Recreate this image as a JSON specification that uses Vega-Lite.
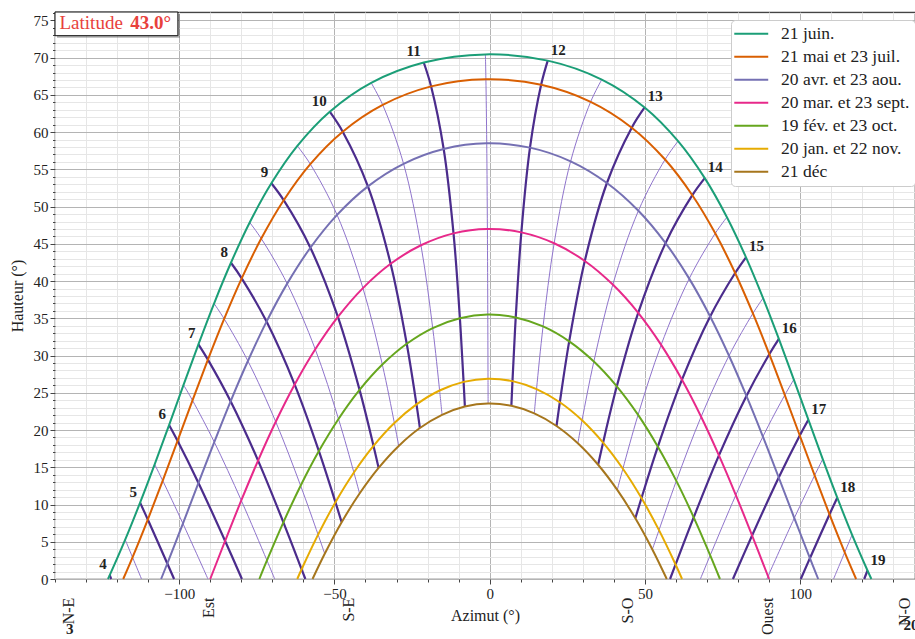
{
"$schema":"https://vega.github.io/schema/vega-lite/v6.json",
"width":860,"height":567,
"autosize":{"type":"none"},
"padding":{"left":55,"top":12,"right":0,"bottom":60},
"background":"white",
"config":{"font":"Liberation Serif","view":{"stroke":"#444444","strokeWidth":1.2},
"axis":{"domain":false,"labelFont":"Liberation Serif","titleFont":"Liberation Serif","labelColor":"#222222","titleColor":"#222222","titleFontWeight":"normal","tickColor":"#444444","labelFontSize":15,"titleFontSize":16},
"text":{"font":"Liberation Serif"}},
"resolve":{"axis":{"x":"independent","y":"independent"}},
"datasets":{
"pts":[
{"c":"21 juin.","az":-122.95,"alt":0},
{"c":"21 juin.","t":4,"az":-122.37,"alt":0.52},
{"c":"21 juin.","t":4.5,"az":-117.39,"alt":5.28},
{"c":"21 juin.","t":5,"az":-112.59,"alt":10.25},
{"c":"21 juin.","t":5.5,"az":-107.9,"alt":15.39},
{"c":"21 juin.","t":6,"az":-103.26,"alt":20.67},
{"c":"21 juin.","t":6.5,"az":-98.6,"alt":26.06},
{"c":"21 juin.","t":7,"az":-93.8,"alt":31.51},
{"c":"21 juin.","t":7.5,"az":-88.77,"alt":36.99},
{"c":"21 juin.","t":8,"az":-83.33,"alt":42.46},
{"c":"21 juin.","t":8.5,"az":-77.29,"alt":47.87},
{"c":"21 juin.","t":9,"az":-70.31,"alt":53.13},
{"c":"21 juin.","t":9.5,"az":-61.94,"alt":58.15},
{"c":"21 juin.","t":10,"az":-51.51,"alt":62.74},
{"c":"21 juin.","t":10.5,"az":-38.16,"alt":66.62},
{"c":"21 juin.","t":11,"az":-21.23,"alt":69.35},
{"c":"21 juin.","t":11.5,"az":-1.37,"alt":70.44},
{"c":"21 juin.","t":12,"az":18.71,"alt":69.6},
{"c":"21 juin.","t":12.5,"az":36.11,"alt":67.06},
{"c":"21 juin.","t":13,"az":49.92,"alt":63.31},
{"c":"21 juin.","t":13.5,"az":60.69,"alt":58.79},
{"c":"21 juin.","t":14,"az":69.29,"alt":53.82},
{"c":"21 juin.","t":14.5,"az":76.42,"alt":48.58},
{"c":"21 juin.","t":15,"az":82.57,"alt":43.19},
{"c":"21 juin.","t":15.5,"az":88.07,"alt":37.72},
{"c":"21 juin.","t":16,"az":93.15,"alt":32.24},
{"c":"21 juin.","t":16.5,"az":97.97,"alt":26.78},
{"c":"21 juin.","t":17,"az":102.65,"alt":21.39},
{"c":"21 juin.","t":17.5,"az":107.28,"alt":16.09},
{"c":"21 juin.","t":18,"az":111.96,"alt":10.92},
{"c":"21 juin.","t":18.5,"az":116.74,"alt":5.93},
{"c":"21 juin.","t":19,"az":121.7,"alt":1.14},
{"c":"21 juin.","az":122.95,"alt":0},
{"c":"21 mai et 23 juil.","az":-118.03,"alt":0},
{"c":"21 mai et 23 juil.","t":4.5,"az":-115.03,"alt":2.91},
{"c":"21 mai et 23 juil.","t":5,"az":-110.11,"alt":7.98},
{"c":"21 mai et 23 juil.","t":5.5,"az":-105.3,"alt":13.2},
{"c":"21 mai et 23 juil.","t":6,"az":-100.53,"alt":18.55},
{"c":"21 mai et 23 juil.","t":6.5,"az":-95.71,"alt":23.98},
{"c":"21 mai et 23 juil.","t":7,"az":-90.75,"alt":29.45},
{"c":"21 mai et 23 juil.","t":7.5,"az":-85.52,"alt":34.93},
{"c":"21 mai et 23 juil.","t":8,"az":-79.86,"alt":40.37},
{"c":"21 mai et 23 juil.","t":8.5,"az":-73.57,"alt":45.71},
{"c":"21 mai et 23 juil.","t":9,"az":-66.34,"alt":50.86},
{"c":"21 mai et 23 juil.","t":9.5,"az":-57.77,"alt":55.71},
{"c":"21 mai et 23 juil.","t":10,"az":-47.33,"alt":60.06},
{"c":"21 mai et 23 juil.","t":10.5,"az":-34.45,"alt":63.66},
{"c":"21 mai et 23 juil.","t":11,"az":-18.85,"alt":66.14},
{"c":"21 mai et 23 juil.","t":11.5,"az":-1.21,"alt":67.1},
{"c":"21 mai et 23 juil.","t":12,"az":16.58,"alt":66.36},
{"c":"21 mai et 23 juil.","t":12.5,"az":32.53,"alt":64.07},
{"c":"21 mai et 23 juil.","t":13,"az":45.77,"alt":60.6},
{"c":"21 mai et 23 juil.","t":13.5,"az":56.5,"alt":56.32},
{"c":"21 mai et 23 juil.","t":14,"az":65.28,"alt":51.53},
{"c":"21 mai et 23 juil.","t":14.5,"az":72.66,"alt":46.41},
{"c":"21 mai et 23 juil.","t":15,"az":79.07,"alt":41.09},
{"c":"21 mai et 23 juil.","t":15.5,"az":84.79,"alt":35.66},
{"c":"21 mai et 23 juil.","t":16,"az":90.07,"alt":30.18},
{"c":"21 mai et 23 juil.","t":16.5,"az":95.06,"alt":24.7},
{"c":"21 mai et 23 juil.","t":17,"az":99.89,"alt":19.27},
{"c":"21 mai et 23 juil.","t":17.5,"az":104.67,"alt":13.91},
{"c":"21 mai et 23 juil.","t":18,"az":109.46,"alt":8.67},
{"c":"21 mai et 23 juil.","t":18.5,"az":114.36,"alt":3.58},
{"c":"21 mai et 23 juil.","az":118.03,"alt":0},
{"c":"20 avr. et 23 aou.","az":-105.82,"alt":0},
{"c":"20 avr. et 23 aou.","t":5,"az":-103.83,"alt":2.08},
{"c":"20 avr. et 23 aou.","t":5.5,"az":-98.8,"alt":7.45},
{"c":"20 avr. et 23 aou.","t":6,"az":-93.79,"alt":12.9},
{"c":"20 avr. et 23 aou.","t":6.5,"az":-88.7,"alt":18.39},
{"c":"20 avr. et 23 aou.","t":7,"az":-83.44,"alt":23.86},
{"c":"20 avr. et 23 aou.","t":7.5,"az":-77.87,"alt":29.27},
{"c":"20 avr. et 23 aou.","t":8,"az":-71.86,"alt":34.56},
{"c":"20 avr. et 23 aou.","t":8.5,"az":-65.22,"alt":39.66},
{"c":"20 avr. et 23 aou.","t":9,"az":-57.74,"alt":44.48},
{"c":"20 avr. et 23 aou.","t":9.5,"az":-49.15,"alt":48.89},
{"c":"20 avr. et 23 aou.","t":10,"az":-39.21,"alt":52.72},
{"c":"20 avr. et 23 aou.","t":10.5,"az":-27.73,"alt":55.75},
{"c":"20 avr. et 23 aou.","t":11,"az":-14.81,"alt":57.74},
{"c":"20 avr. et 23 aou.","t":11.5,"az":-0.94,"alt":58.5},
{"c":"20 avr. et 23 aou.","t":12,"az":12.99,"alt":57.92},
{"c":"20 avr. et 23 aou.","t":12.5,"az":26.08,"alt":56.08},
{"c":"20 avr. et 23 aou.","t":13,"az":37.77,"alt":53.17},
{"c":"20 avr. et 23 aou.","t":13.5,"az":47.91,"alt":49.44},
{"c":"20 avr. et 23 aou.","t":14,"az":56.66,"alt":45.1},
{"c":"20 avr. et 23 aou.","t":14.5,"az":64.28,"alt":40.33},
{"c":"20 avr. et 23 aou.","t":15,"az":71.02,"alt":35.25},
{"c":"20 avr. et 23 aou.","t":15.5,"az":77.1,"alt":29.98},
{"c":"20 avr. et 23 aou.","t":16,"az":82.71,"alt":24.58},
{"c":"20 avr. et 23 aou.","t":16.5,"az":88.01,"alt":19.12},
{"c":"20 avr. et 23 aou.","t":17,"az":93.11,"alt":13.63},
{"c":"20 avr. et 23 aou.","t":17.5,"az":98.13,"alt":8.18},
{"c":"20 avr. et 23 aou.","t":18,"az":103.15,"alt":2.79},
{"c":"20 avr. et 23 aou.","az":105.82,"alt":0},
{"c":"20 mar. et 23 sept.","az":-90,"alt":0},
{"c":"20 mar. et 23 sept.","t":6,"az":-85.21,"alt":5.11},
{"c":"20 mar. et 23 sept.","t":6.5,"az":-80,"alt":10.55},
{"c":"20 mar. et 23 sept.","t":7,"az":-74.59,"alt":15.9},
{"c":"20 mar. et 23 sept.","t":7.5,"az":-68.9,"alt":21.11},
{"c":"20 mar. et 23 sept.","t":8,"az":-62.8,"alt":26.11},
{"c":"20 mar. et 23 sept.","t":8.5,"az":-56.17,"alt":30.84},
{"c":"20 mar. et 23 sept.","t":9,"az":-48.88,"alt":35.19},
{"c":"20 mar. et 23 sept.","t":9.5,"az":-40.82,"alt":39.06},
{"c":"20 mar. et 23 sept.","t":10,"az":-31.9,"alt":42.32},
{"c":"20 mar. et 23 sept.","t":10.5,"az":-22.13,"alt":44.81},
{"c":"20 mar. et 23 sept.","t":11,"az":-11.64,"alt":46.41},
{"c":"20 mar. et 23 sept.","t":11.5,"az":-0.73,"alt":47},
{"c":"20 mar. et 23 sept.","t":12,"az":10.21,"alt":46.54},
{"c":"20 mar. et 23 sept.","t":12.5,"az":20.77,"alt":45.08},
{"c":"20 mar. et 23 sept.","t":13,"az":30.64,"alt":42.7},
{"c":"20 mar. et 23 sept.","t":13.5,"az":39.66,"alt":39.53},
{"c":"20 mar. et 23 sept.","t":14,"az":47.85,"alt":35.74},
{"c":"20 mar. et 23 sept.","t":14.5,"az":55.24,"alt":31.44},
{"c":"20 mar. et 23 sept.","t":15,"az":61.95,"alt":26.76},
{"c":"20 mar. et 23 sept.","t":15.5,"az":68.11,"alt":21.79},
{"c":"20 mar. et 23 sept.","t":16,"az":73.85,"alt":16.6},
{"c":"20 mar. et 23 sept.","t":16.5,"az":79.29,"alt":11.27},
{"c":"20 mar. et 23 sept.","t":17,"az":84.53,"alt":5.84},
{"c":"20 mar. et 23 sept.","t":17.5,"az":89.66,"alt":0.37},
{"c":"20 mar. et 23 sept.","az":90,"alt":0},
{"c":"19 fév. et 23 oct.","az":-74.18,"alt":0},
{"c":"19 fév. et 23 oct.","t":6.5,"az":-71.73,"alt":2.49},
{"c":"19 fév. et 23 oct.","t":7,"az":-66.44,"alt":7.61},
{"c":"19 fév. et 23 oct.","t":7.5,"az":-60.89,"alt":12.53},
{"c":"19 fév. et 23 oct.","t":8,"az":-55,"alt":17.18},
{"c":"19 fév. et 23 oct.","t":8.5,"az":-48.69,"alt":21.49},
{"c":"19 fév. et 23 oct.","t":9,"az":-41.9,"alt":25.39},
{"c":"19 fév. et 23 oct.","t":9.5,"az":-34.57,"alt":28.79},
{"c":"19 fév. et 23 oct.","t":10,"az":-26.71,"alt":31.58},
{"c":"19 fév. et 23 oct.","t":10.5,"az":-18.34,"alt":33.69},
{"c":"19 fév. et 23 oct.","t":11,"az":-9.59,"alt":35.01},
{"c":"19 fév. et 23 oct.","t":11.5,"az":-0.6,"alt":35.5},
{"c":"19 fév. et 23 oct.","t":12,"az":8.4,"alt":35.12},
{"c":"19 fév. et 23 oct.","t":12.5,"az":17.2,"alt":33.91},
{"c":"19 fév. et 23 oct.","t":13,"az":25.62,"alt":31.91},
{"c":"19 fév. et 23 oct.","t":13.5,"az":33.56,"alt":29.2},
{"c":"19 fév. et 23 oct.","t":14,"az":40.95,"alt":25.87},
{"c":"19 fév. et 23 oct.","t":14.5,"az":47.81,"alt":22.04},
{"c":"19 fév. et 23 oct.","t":15,"az":54.18,"alt":17.77},
{"c":"19 fév. et 23 oct.","t":15.5,"az":60.13,"alt":13.17},
{"c":"19 fév. et 23 oct.","t":16,"az":65.72,"alt":8.28},
{"c":"19 fév. et 23 oct.","t":16.5,"az":71.04,"alt":3.18},
{"c":"19 fév. et 23 oct.","az":74.18,"alt":0},
{"c":"20 jan. et 22 nov.","az":-61.97,"alt":0},
{"c":"20 jan. et 22 nov.","t":7,"az":-60.57,"alt":1.31},
{"c":"20 jan. et 22 nov.","t":7.5,"az":-55.26,"alt":5.96},
{"c":"20 jan. et 22 nov.","t":8,"az":-49.67,"alt":10.31},
{"c":"20 jan. et 22 nov.","t":8.5,"az":-43.73,"alt":14.3},
{"c":"20 jan. et 22 nov.","t":9,"az":-37.41,"alt":17.87},
{"c":"20 jan. et 22 nov.","t":9.5,"az":-30.69,"alt":20.94},
{"c":"20 jan. et 22 nov.","t":10,"az":-23.57,"alt":23.44},
{"c":"20 jan. et 22 nov.","t":10.5,"az":-16.12,"alt":25.31},
{"c":"20 jan. et 22 nov.","t":11,"az":-8.4,"alt":26.47},
{"c":"20 jan. et 22 nov.","t":11.5,"az":-0.53,"alt":26.9},
{"c":"20 jan. et 22 nov.","t":12,"az":7.35,"alt":26.57},
{"c":"20 jan. et 22 nov.","t":12.5,"az":15.1,"alt":25.5},
{"c":"20 jan. et 22 nov.","t":13,"az":22.6,"alt":23.73},
{"c":"20 jan. et 22 nov.","t":13.5,"az":29.76,"alt":21.31},
{"c":"20 jan. et 22 nov.","t":14,"az":36.53,"alt":18.31},
{"c":"20 jan. et 22 nov.","t":14.5,"az":42.91,"alt":14.8},
{"c":"20 jan. et 22 nov.","t":15,"az":48.9,"alt":10.86},
{"c":"20 jan. et 22 nov.","t":15.5,"az":54.54,"alt":6.56},
{"c":"20 jan. et 22 nov.","t":16,"az":59.88,"alt":1.95},
{"c":"20 jan. et 22 nov.","az":61.97,"alt":0},
{"c":"21 déc","az":-57.05,"alt":0},
{"c":"21 déc","t":7.5,"az":-53.12,"alt":3.39},
{"c":"21 déc","t":8,"az":-47.67,"alt":7.62},
{"c":"21 déc","t":8.5,"az":-41.9,"alt":11.48},
{"c":"21 déc","t":9,"az":-35.77,"alt":14.92},
{"c":"21 déc","t":9.5,"az":-29.29,"alt":17.87},
{"c":"21 déc","t":10,"az":-22.47,"alt":20.27},
{"c":"21 déc","t":10.5,"az":-15.34,"alt":22.04},
{"c":"21 déc","t":11,"az":-7.98,"alt":23.15},
{"c":"21 déc","t":11.5,"az":-0.5,"alt":23.56},
{"c":"21 déc","t":12,"az":6.99,"alt":23.25},
{"c":"21 déc","t":12.5,"az":14.37,"alt":22.23},
{"c":"21 déc","t":13,"az":21.53,"alt":20.54},
{"c":"21 déc","t":13.5,"az":28.4,"alt":18.22},
{"c":"21 déc","t":14,"az":34.93,"alt":15.34},
{"c":"21 déc","t":14.5,"az":41.1,"alt":11.96},
{"c":"21 déc","t":15,"az":46.92,"alt":8.15},
{"c":"21 déc","t":15.5,"az":52.41,"alt":3.97},
{"c":"21 déc","az":57.05,"alt":0},
{"t":4,"az":-121.9,"alt":0},
{"t":4.5,"az":-112.13,"alt":0},
{"t":5,"az":-101.64,"alt":0},
{"t":5.5,"az":-90.73,"alt":0},
{"t":6,"az":-79.79,"alt":0},
{"t":6.5,"az":-69.23,"alt":0},
{"t":7,"az":-59.36,"alt":0},
{"t":16,"az":58.1,"alt":0},
{"t":16.5,"az":67.87,"alt":0},
{"t":17,"az":78.36,"alt":0},
{"t":17.5,"az":89.27,"alt":0},
{"t":18,"az":100.21,"alt":0},
{"t":18.5,"az":110.77,"alt":0},
{"t":19,"az":120.64,"alt":0}
],
"labels":[
{"t":3,"az":-133.08,"alt":-8.15},{"t":4,"az":-122.37,"alt":0.52},{"t":5,"az":-112.59,"alt":10.25},{"t":6,"az":-103.26,"alt":20.67},{"t":7,"az":-93.8,"alt":31.51},{"t":8,"az":-83.33,"alt":42.46},{"t":9,"az":-70.31,"alt":53.13},{"t":10,"az":-51.51,"alt":62.74},{"t":11,"az":-21.23,"alt":69.35},{"t":12,"az":18.71,"alt":69.6},{"t":13,"az":49.92,"alt":63.31},{"t":14,"az":69.29,"alt":53.82},{"t":15,"az":82.57,"alt":43.19},{"t":16,"az":93.15,"alt":32.24},{"t":17,"az":102.65,"alt":21.39},{"t":18,"az":111.96,"alt":10.92},{"t":19,"az":121.7,"alt":1.14},{"t":20,"az":132.33,"alt":-7.62}
],
"dirs":[
{"az":-135.5,"name":"N-E"},{"az":-90.3,"name":"Est"},{"az":-45.3,"name":"S-E"},{"az":44.6,"name":"S-O"},{"az":89.7,"name":"Ouest"},{"az":133.9,"name":"N-O"}
]
},
"layer":[
{"data":{"name":"pts"},
 "transform":[{"filter":"datum.t != null && datum.t % 1 !== 0"}],
 "mark":{"type":"line","interpolate":"catmull-rom","color":"#8f74cc","strokeWidth":1},
 "encoding":{
  "x":{"field":"az","type":"quantitative","scale":{"domain":[-140,137],"nice":false,"zero":false},
   "axis":{"orient":"bottom","values":[-140,-130,-120,-110,-100,-90,-80,-70,-60,-50,-40,-30,-20,-10,0,10,20,30,40,50,60,70,80,90,100,110,120,130],
    "labelExpr":"datum.value % 50 === 0 ? datum.label : ''","labelOverlap":false,"labelFlush":false,"labelPadding":2,
    "tickSize":{"condition":{"test":"datum.value % 50 === 0","value":5},"value":3},
    "grid":true,"gridColor":{"condition":{"test":"datum.value % 50 === 0","value":"#b4b4b4"},"value":"#e6e6e6"},"gridWidth":1,
    "title":"Azimut (°)","titlePadding":6}},
  "y":{"field":"alt","type":"quantitative","scale":{"domain":[0,76.13],"nice":false,"zero":false},
   "axis":{"orient":"left","values":[0,1,2,3,4,5,6,7,8,9,10,11,12,13,14,15,16,17,18,19,20,21,22,23,24,25,26,27,28,29,30,31,32,33,34,35,36,37,38,39,40,41,42,43,44,45,46,47,48,49,50,51,52,53,54,55,56,57,58,59,60,61,62,63,64,65,66,67,68,69,70,71,72,73,74,75,76],
    "labelExpr":"datum.value % 5 === 0 ? datum.label : ''","labelOverlap":false,"labelFlush":false,"labelPadding":2,
    "tickSize":{"condition":{"test":"datum.value % 5 === 0","value":5},"value":2.5},
    "grid":true,"gridColor":{"condition":{"test":"datum.value % 5 === 0","value":"#b4b4b4"},"value":"#e6e6e6"},"gridWidth":1,
    "title":"Hauteur (°)","titlePadding":8}},
  "detail":{"field":"t","type":"nominal"},
  "order":{"field":"alt","type":"quantitative"}}},
{"data":{"name":"pts"},
 "transform":[{"filter":"datum.t != null && datum.t % 1 === 0"}],
 "mark":{"type":"line","interpolate":"catmull-rom","color":"#4b2c8c","strokeWidth":2.2},
 "encoding":{
  "x":{"field":"az","type":"quantitative","axis":null},
  "y":{"field":"alt","type":"quantitative","axis":null},
  "detail":{"field":"t","type":"nominal"},
  "order":{"field":"alt","type":"quantitative"}}},
{"data":{"name":"pts"},
 "transform":[{"filter":"datum.c != null"}],
 "mark":{"type":"line","interpolate":"catmull-rom","strokeWidth":2},
 "encoding":{
  "x":{"field":"az","type":"quantitative","axis":null},
  "y":{"field":"alt","type":"quantitative","axis":null},
  "color":{"field":"c","type":"nominal",
   "scale":{"domain":["21 juin.","21 mai et 23 juil.","20 avr. et 23 aou.","20 mar. et 23 sept.","19 fév. et 23 oct.","20 jan. et 22 nov.","21 déc"],
    "range":["#1b9e77","#d95f02","#7570b3","#e7298a","#66a61e","#e6ab02","#a6761d"]},
   "legend":{"orient":"none","legendX":676,"legendY":8,"title":null,"symbolType":"M-3,0L3,0","symbolSize":128,"symbolStrokeWidth":2,"symbolOffset":6.5,
    "labelFontSize":17.5,"labelFont":"Liberation Serif","labelColor":"#222222","labelOffset":21,"rowPadding":4,"padding":5,
    "fillColor":"white","strokeColor":"#cccccc","cornerRadius":4,"labelLimit":300}},
  "order":{"field":"az","type":"quantitative"}}},
{"data":{"name":"labels"},
 "transform":[{"filter":"datum.t < 12"}],
 "mark":{"type":"text","align":"right","baseline":"bottom","dx":-3,"dy":-3,"fontSize":15,"fontWeight":"bold","color":"#222222"},
 "encoding":{
  "x":{"field":"az","type":"quantitative","axis":null},
  "y":{"field":"alt","type":"quantitative","axis":null},
  "text":{"field":"t","type":"nominal"}}},
{"data":{"name":"labels"},
 "transform":[{"filter":"datum.t >= 12"}],
 "mark":{"type":"text","align":"left","baseline":"bottom","dx":3,"dy":-3,"fontSize":15,"fontWeight":"bold","color":"#222222"},
 "encoding":{
  "x":{"field":"az","type":"quantitative","axis":null},
  "y":{"field":"alt","type":"quantitative","axis":null},
  "text":{"field":"t","type":"nominal"}}},
{"data":{"name":"dirs"},
 "mark":{"type":"text","angle":270,"align":"right","baseline":"middle","fontSize":16,"color":"#222222"},
 "encoding":{
  "x":{"field":"az","type":"quantitative","axis":null},
  "y":{"datum":-2.5,"axis":null},
  "text":{"field":"name","type":"nominal"}}},
{"data":{"values":[{}]},
 "mark":{"type":"rect","fill":"#555555","opacity":0.45},
 "encoding":{"x":{"datum":-139.36,"axis":null},"x2":{"datum":-99.78},"y":{"datum":72.68,"axis":null},"y2":{"datum":75.86}}},
{"data":{"values":[{}]},
 "mark":{"type":"rect","fill":"white","stroke":"#111111","strokeWidth":1},
 "encoding":{"x":{"datum":-140,"axis":null},"x2":{"datum":-100.42},"y":{"datum":72.95,"axis":null},"y2":{"datum":76.13}}},
{"data":{"values":[{}]},
 "mark":{"type":"text","align":"left","baseline":"alphabetic","fontSize":19,"color":"#e8413c","text":"Latitude"},
 "encoding":{"x":{"datum":-138.55,"axis":null},"y":{"datum":73.88,"axis":null}}},
{"data":{"values":[{}]},
 "mark":{"type":"text","align":"left","baseline":"alphabetic","fontSize":19,"fontWeight":"bold","color":"#e8413c","text":"43.0°"},
 "encoding":{"x":{"datum":-115.78,"axis":null},"y":{"datum":73.88,"axis":null}}}
]
}
